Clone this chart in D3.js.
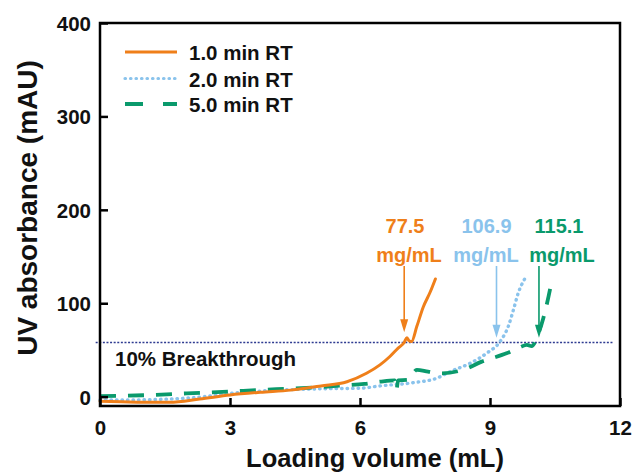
<!DOCTYPE html>
<html>
<head>
<meta charset="utf-8">
<script src="https://cdn.jsdelivr.net/npm/d3@7"></script>
<style>
  html, body { margin: 0; padding: 0; background: #fff; }
  svg { display: block; }
  text { font-family: "Liberation Sans", Arial, sans-serif; font-weight: bold; }
</style>
</head>
<body>
<svg id="chart" width="633" height="475"></svg>
<script>
// ---- data ----
const xTicks = [0, 3, 6, 9, 12];
const yTicks = [0, 100, 200, 300, 400];

const seriesNames = ["1.0 min RT", "2.0 min RT", "5.0 min RT"];

const rt1X = [0, 0.5, 1.0, 1.6, 2.3, 3.0, 3.7, 4.4, 5.1, 5.7, 6.15, 6.46, 6.69, 6.88, 7.02, 7.08, 7.13, 7.19, 7.31, 7.46, 7.62, 7.74];
const rt1Y = [-5, -5.5, -6, -6, -2.5, 1.8, 4.7, 7, 11.5, 16, 25, 34, 43, 52, 58, 63, 60, 59, 75, 96, 112, 126];

const rt2X = [0, 0.6, 1.3, 2.4, 3.0, 3.7, 4.4, 5.2, 6.0, 6.46, 7.23, 7.77, 8.08, 8.54, 8.92, 9.23, 9.42, 9.54, 9.65, 9.81];
const rt2Y = [-3.5, -3.5, -3, 0, 3.5, 6, 7.5, 8.5, 9, 11.5, 15, 19.7, 26.8, 35.7, 46.4, 58.9, 75, 92.8, 110.7, 126.8];

const rt5X = [0, 1.0, 2.0, 3.0, 3.6, 4.3, 5.0, 5.6, 6.1, 6.46, 6.8, 6.84, 6.88, 7.1, 7.31, 7.57, 7.88, 8.46, 8.81, 9.04, 9.38, 9.69, 9.85, 9.96, 10.12, 10.23, 10.35, 10.42];
const rt5Y = [0.5, 1.5, 3.5, 5.5, 7, 8.5, 10, 12, 13.6, 16, 17.5, 7, 17.5, 18, 28.6, 26.8, 25, 30, 37.5, 41, 46.4, 52.9, 55.4, 54, 67.9, 84, 107, 123];

const breakthroughValue = 58;
const breakthroughLabel = "10% Breakthrough";

const capacityValues = ["77.5", "106.9", "115.1"];
const capacityUnit = "mg/mL";
const arrowX = [7.02, 9.15, 10.13];
const arrowTipY = [69, 63, 63];

// ---- layout ----
const colors = ["#EF7F1A", "#8AC3EC", "#0A9A6C"];
const svg = d3.select("#chart");
const m = { left: 100, right: 620, top: 23, bottom: 406 };

const x = d3.scaleLinear().domain([0, 12]).range([m.left, m.right]);
const y = d3.scaleLinear().domain([-10, 400]).range([m.bottom, m.top]);

// breakthrough line
svg.append("line")
  .attr("x1", x(-0.1)).attr("x2", x(11.85))
  .attr("y1", y(breakthroughValue)).attr("y2", y(breakthroughValue))
  .attr("stroke", "#2E3B91").attr("stroke-width", 1.6)
  .attr("stroke-dasharray", "2 1.6");

svg.append("text")
  .attr("x", 115).attr("y", y(breakthroughValue) + 24)
  .attr("font-size", 20.5).attr("fill", "#111")
  .text(breakthroughLabel);

// curves
const line = d3.line().x(d => x(d[0])).y(d => y(d[1])).curve(d3.curveMonotoneX);
const series = [
  { name: seriesNames[1], pts: d3.zip(rt2X, rt2Y), color: colors[1], dash: "0.5 5", width: 3.4, cap: "round" },
  { name: seriesNames[2], pts: d3.zip(rt5X, rt5Y), color: colors[2], dash: "16 12", width: 3.8, cap: "butt" },
  { name: seriesNames[0], pts: d3.zip(rt1X, rt1Y), color: colors[0], dash: null, width: 3, cap: "round" }
];
series.forEach(s => {
  svg.append("path")
    .attr("d", line(s.pts))
    .attr("fill", "none")
    .attr("stroke", s.color)
    .attr("stroke-width", s.width)
    .attr("stroke-linecap", s.cap)
    .attr("stroke-linejoin", "round")
    .attr("stroke-dasharray", s.dash);
});

// axes (ticks inward)
const xAxis = d3.axisBottom(x).tickValues(xTicks).tickSize(-8).tickPadding(14).tickFormat(d3.format("d"));
const yAxis = d3.axisLeft(y).tickValues(yTicks).tickSize(-8).tickPadding(9).tickFormat(d3.format("d"));

const gx = svg.append("g").attr("transform", `translate(0,${m.bottom})`).call(xAxis);
const gy = svg.append("g").attr("transform", `translate(${m.left},0)`).call(yAxis);
[gx, gy].forEach(g => {
  g.select(".domain").remove();
  g.selectAll(".tick line").attr("stroke", "#000").attr("stroke-width", 2.5);
  g.selectAll(".tick text").attr("font-size", 20.5).attr("fill", "#111")
    .style("font-family", "'Liberation Sans', Arial, sans-serif").style("font-weight", "bold");
});
gx.selectAll(".tick text").attr("dy", "0.71em");
gy.selectAll(".tick text").attr("dy", "0.36em");

// frame
svg.append("rect")
  .attr("x", m.left).attr("y", m.top)
  .attr("width", m.right - m.left).attr("height", m.bottom - m.top)
  .attr("fill", "none").attr("stroke", "#000").attr("stroke-width", 2.5);

// axis titles
svg.append("text")
  .attr("x", 375).attr("y", 467)
  .attr("text-anchor", "middle").attr("font-size", 25.5).attr("fill", "#111")
  .text("Loading volume (mL)");
svg.append("text")
  .attr("transform", "translate(37,208) rotate(-90)")
  .attr("text-anchor", "middle").attr("font-size", 28).attr("fill", "#111")
  .text("UV absorbance (mAU)");

// legend
const legendY = [52, 78.5, 104];
const legendStyles = [
  { dash: null, width: 3, cap: "butt" },
  { dash: "0.5 5", width: 3.2, cap: "round" },
  { dash: "18 20", width: 3.8, cap: "butt" }
];
seriesNames.forEach((name, i) => {
  svg.append("line")
    .attr("x1", 125).attr("x2", 177)
    .attr("y1", legendY[i]).attr("y2", legendY[i])
    .attr("stroke", colors[i]).attr("stroke-width", legendStyles[i].width)
    .attr("stroke-linecap", legendStyles[i].cap)
    .attr("stroke-dasharray", legendStyles[i].dash);
  svg.append("text")
    .attr("x", 189).attr("y", legendY[i] + 8)
    .attr("font-size", 20.5).attr("fill", "#111")
    .text(name);
});

// annotations
const labelCX = [405, 486.5, 559];
const unitCX = [409, 486, 562];
capacityValues.forEach((v, i) => {
  svg.append("text").attr("x", labelCX[i]).attr("y", 233)
    .attr("text-anchor", "middle").attr("font-size", 20).attr("fill", colors[i]).text(v);
  svg.append("text").attr("x", unitCX[i]).attr("y", 262)
    .attr("text-anchor", "middle").attr("font-size", 20).attr("fill", colors[i]).text(capacityUnit);
  const ax = x(arrowX[i]);
  const tip = y(arrowTipY[i]);
  svg.append("line")
    .attr("x1", ax).attr("x2", ax)
    .attr("y1", 266).attr("y2", tip - 10)
    .attr("stroke", colors[i]).attr("stroke-width", 1.6);
  svg.append("path")
    .attr("d", `M${ax - 4},${tip - 13} L${ax + 4},${tip - 13} L${ax},${tip} Z`)
    .attr("fill", colors[i]);
});
</script>
</body>
</html>
